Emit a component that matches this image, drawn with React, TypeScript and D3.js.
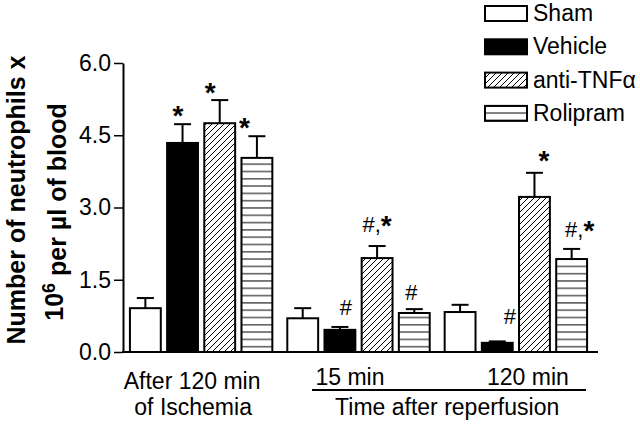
import React, { useEffect, useRef } from "react";
import * as d3 from "d3";

const groups = ["After 120 min of Ischemia", "15 min", "120 min"];
const seriesNames = ["Sham", "Vehicle", "anti-TNFα", "Rolipram"];
const sham = [0.91, 0.70, 0.83];
const vehicle = [4.34, 0.46, 0.19];
const antiTNF = [4.75, 1.95, 3.22];
const rolipram = [4.03, 0.81, 1.93];
const shamErr = [0.21, 0.21, 0.15];
const vehicleErr = [0.39, 0.06, 0.03];
const antiTNFErr = [0.48, 0.25, 0.50];
const rolipramErr = [0.45, 0.08, 0.21];
const yTicks = [0, 1.5, 3.0, 4.5, 6.0];
// significance marks: group index, series index, label
const marks = [
  { g: 0, s: 1, text: "*" },
  { g: 0, s: 2, text: "*" },
  { g: 0, s: 3, text: "*" },
  { g: 1, s: 1, text: "#" },
  { g: 1, s: 2, text: "#,*" },
  { g: 1, s: 3, text: "#" },
  { g: 2, s: 1, text: "#" },
  { g: 2, s: 2, text: "*" },
  { g: 2, s: 3, text: "#,*" },
];

const FONT = "'Liberation Sans', Arial, Helvetica, sans-serif";

export default function App() {
  const ref = useRef<SVGSVGElement>(null);

  useEffect(() => {
    const width = 640;
    const height = 424;
    const values = [sham, vehicle, antiTNF, rolipram];
    const errors = [shamErr, vehicleErr, antiTNFErr, rolipramErr];

    const svg = d3.select(ref.current)
      .attr("width", width)
      .attr("height", height)
      .style("font-family", FONT);
    svg.selectAll("*").remove();

    const defs = svg.append("defs");
    defs.append("pattern")
        .attr("id", "diag")
        .attr("patternUnits", "userSpaceOnUse")
        .attr("width", 6)
        .attr("height", 6)
      .append("path")
        .attr("d", "M-1,1 l2,-2 M0,6 l6,-6 M5,7 l2,-2")
        .attr("stroke", "#000")
        .attr("stroke-width", 1);
    const hp = defs.append("pattern")
        .attr("id", "horiz")
        .attr("patternUnits", "userSpaceOnUse")
        .attr("width", 10)
        .attr("height", 7.3);
    hp.append("rect").attr("width", 10).attr("height", 7.3).attr("fill", "#fff");
    hp.append("line")
        .attr("x1", 0).attr("x2", 10)
        .attr("y1", 3.6).attr("y2", 3.6)
        .attr("stroke", "#000")
        .attr("stroke-width", 1);

    const fills = ["#fff", "#000", "url(#diag)", "url(#horiz)"];

    const y = d3.scaleLinear().domain([0, 6]).range([352, 63]);
    const x0 = d3.scaleBand<number>()
      .domain(d3.range(groups.length))
      .range([123, 594])
      .paddingInner(0.095)
      .paddingOuter(0.044);
    const x1 = d3.scaleBand<number>()
      .domain(d3.range(seriesNames.length))
      .range([0, x0.bandwidth()])
      .paddingInner(0.17);

    // bars
    const bars = [];
    groups.forEach((_, g) => {
      seriesNames.forEach((_, s) => {
        bars.push({ g, s, v: values[s][g], e: errors[s][g] });
      });
    });

    const barG = svg.append("g");
    barG.selectAll("rect.bg")
      .data(bars)
      .join("rect")
        .attr("x", d => x0(d.g) + x1(d.s))
        .attr("y", d => y(d.v))
        .attr("width", x1.bandwidth())
        .attr("height", d => y(0) - y(d.v))
        .attr("fill", "#fff");
    barG.selectAll("rect.fg")
      .data(bars)
      .join("rect")
        .attr("x", d => x0(d.g) + x1(d.s))
        .attr("y", d => y(d.v))
        .attr("width", x1.bandwidth())
        .attr("height", d => y(0) - y(d.v))
        .attr("fill", d => fills[d.s])
        .attr("stroke", "#000")
        .attr("stroke-width", 2);

    // error bars (upper only)
    const errG = svg.append("g").attr("stroke", "#000").attr("stroke-width", 2);
    bars.forEach(d => {
      const cx = x0(d.g) + x1(d.s) + x1.bandwidth() / 2;
      errG.append("line")
        .attr("x1", cx).attr("x2", cx)
        .attr("y1", y(d.v)).attr("y2", y(d.v + d.e));
      errG.append("line")
        .attr("x1", cx - 8.5).attr("x2", cx + 8.5)
        .attr("y1", y(d.v + d.e)).attr("y2", y(d.v + d.e));
    });

    // significance marks, nudged like the original figure
    const nudge = [
      [-4.5, -0.5], [-9.5, -1.5], [-12.5, -0.5],
      [6, 12], [0, 14], [-3, 9],
      [12.5, 17], [9.5, 2.5], [8, 12],
    ];
    marks.forEach((m, i) => {
      const cx = x0(m.g) + x1(m.s) + x1.bandwidth() / 2 + nudge[i][0];
      const top = y(values[m.s][m.g] + errors[m.s][m.g]) - nudge[i][1];
      const t = svg.append("text")
        .attr("x", cx)
        .attr("y", top)
        .attr("text-anchor", "middle")
        .attr("font-size", 22);
      m.text.split("").forEach((ch, k) => {
        const sp = t.append("tspan").text(ch);
        if (ch === "*") {
          sp.attr("font-weight", "bold").attr("font-size", 28);
          if (k > 0) sp.attr("dy", 3);
        }
      });
    });

    // y axis
    const yAxis = svg.append("g")
      .attr("transform", "translate(123,0)")
      .call(d3.axisLeft(y).tickValues(yTicks).tickFormat(d3.format(".1f")).tickSize(9).tickSizeOuter(0).tickPadding(3));
    yAxis.select(".domain").attr("stroke-width", 2);
    yAxis.selectAll(".tick line").attr("stroke-width", 1.5);
    yAxis.selectAll(".tick text")
      .attr("font-size", 23)
      .attr("font-family", FONT)
      .attr("fill", "#000");

    // x axis baseline
    svg.append("line")
      .attr("x1", 122).attr("x2", 598)
      .attr("y1", y(0)).attr("y2", y(0))
      .attr("stroke", "#000")
      .attr("stroke-width", 2);

    // y label
    svg.append("text")
      .attr("transform", "translate(25,200) rotate(-90)")
      .attr("text-anchor", "middle")
      .attr("font-size", 25)
      .attr("font-weight", "bold")
      .text("Number of neutrophils x");
    const l2 = svg.append("text")
      .attr("transform", "translate(63,212) rotate(-90)")
      .attr("text-anchor", "middle")
      .attr("font-size", 25)
      .attr("font-weight", "bold");
    l2.append("tspan").text("10");
    l2.append("tspan").attr("dy", "-0.45em").attr("font-size", 18).text("6");
    l2.append("tspan").attr("dy", "0.45em").text(" per µl of blood");

    // x labels
    const gc = (g: number) => x0(g) + x0.bandwidth() / 2;
    const xl = svg.append("g").attr("font-size", 23).attr("text-anchor", "middle");
    xl.append("text").attr("x", gc(0) - 9).attr("y", 389).text("After 120 min");
    xl.append("text").attr("x", gc(0) - 8).attr("y", 415).text("of Ischemia");
    xl.append("text").attr("x", gc(1) - 8.5).attr("y", 385).text(groups[1]);
    xl.append("text").attr("x", gc(2) + 12).attr("y", 385).text(groups[2]);
    xl.append("text").attr("x", (gc(1) + gc(2)) / 2 + 10).attr("y", 415).text("Time after reperfusion");
    svg.append("line")
      .attr("x1", 312).attr("x2", 586)
      .attr("y1", 390).attr("y2", 390)
      .attr("stroke", "#000")
      .attr("stroke-width", 2);

    // legend
    const leg = svg.append("g").attr("transform", "translate(485,0)");
    seriesNames.forEach((name, i) => {
      const base = 21 + i * 33.3;
      leg.append("rect")
        .attr("x", 0).attr("y", base - 15)
        .attr("width", 42).attr("height", 15)
        .attr("fill", fills[i])
        .attr("stroke", "#000")
        .attr("stroke-width", 2);
      leg.append("text")
        .attr("x", 48).attr("y", base)
        .attr("font-size", 23)
        .text(name);
    });
  }, []);

  return <svg ref={ref} style={{ position: "absolute", left: 0, top: 0, background: "#fff" }}></svg>;
}
